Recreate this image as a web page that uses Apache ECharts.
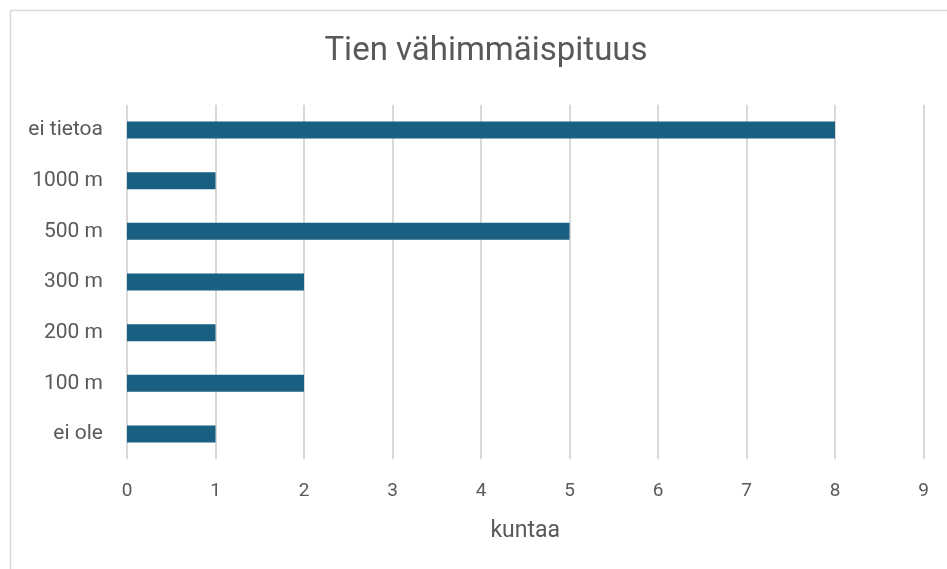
<!DOCTYPE html>
<html>
<head>
<meta charset="utf-8">
<script src="https://cdn.jsdelivr.net/npm/echarts@6/dist/echarts.min.js"></script>
<style>
html,body{margin:0;padding:0;background:#fff;}
#c{width:947px;height:569px;}
</style>
</head>
<body>
<div id="c"></div>
<script>
const titleText = 'Tien vähimmäispituus';
const categories = ['ei ole', '100 m', '200 m', '300 m', '500 m', '1000 m', 'ei tietoa'];
const values = [1, 2, 1, 2, 5, 1, 8];
const axisName = 'kuntaa';

const chart = echarts.init(document.getElementById('c'), null, {renderer: 'canvas'});
chart.setOption({
  backgroundColor: '#ffffff',
  animation: false,
  graphic: [{
    type: 'rect',
    shape: {x: 10.5, y: 10.5, width: 1000, height: 1000},
    style: {fill: 'none', stroke: '#d9d9d9', lineWidth: 1.5},
    silent: true
  }],
  title: {
    text: titleText,
    left: 481,
    textAlign: 'center',
    top: 30,
    textStyle: {fontFamily: 'Roboto, sans-serif', fontSize: 33, fontWeight: 'normal', color: '#595959'}
  },
  grid: {left: 127, right: 23.5, top: 104.7, bottom: 109.7, containLabel: false},
  xAxis: {
    type: 'value',
    min: 0, max: 9, interval: 1,
    axisLine: {show: false},
    axisTick: {show: false},
    splitLine: {show: true, lineStyle: {color: '#d9d9d9', width: 2}},
    axisLabel: {margin: 22, color: '#595959', fontSize: 19, fontFamily: 'Roboto, sans-serif'},
    name: axisName,
    nameLocation: 'middle',
    nameGap: 60,
    nameTextStyle: {color: '#595959', fontSize: 23, fontFamily: 'Roboto, sans-serif'}
  },
  yAxis: {
    type: 'category',
    data: categories,
    axisLine: {show: false},
    axisTick: {show: false},
    splitLine: {show: false},
    axisLabel: {margin: 24, color: '#595959', fontSize: 21, fontFamily: 'Roboto, sans-serif'}
  },
  series: [{
    type: 'bar',
    data: values,
    barWidth: 17,
    itemStyle: {color: '#185f82'}
  }]
});
</script>
</body>
</html>
